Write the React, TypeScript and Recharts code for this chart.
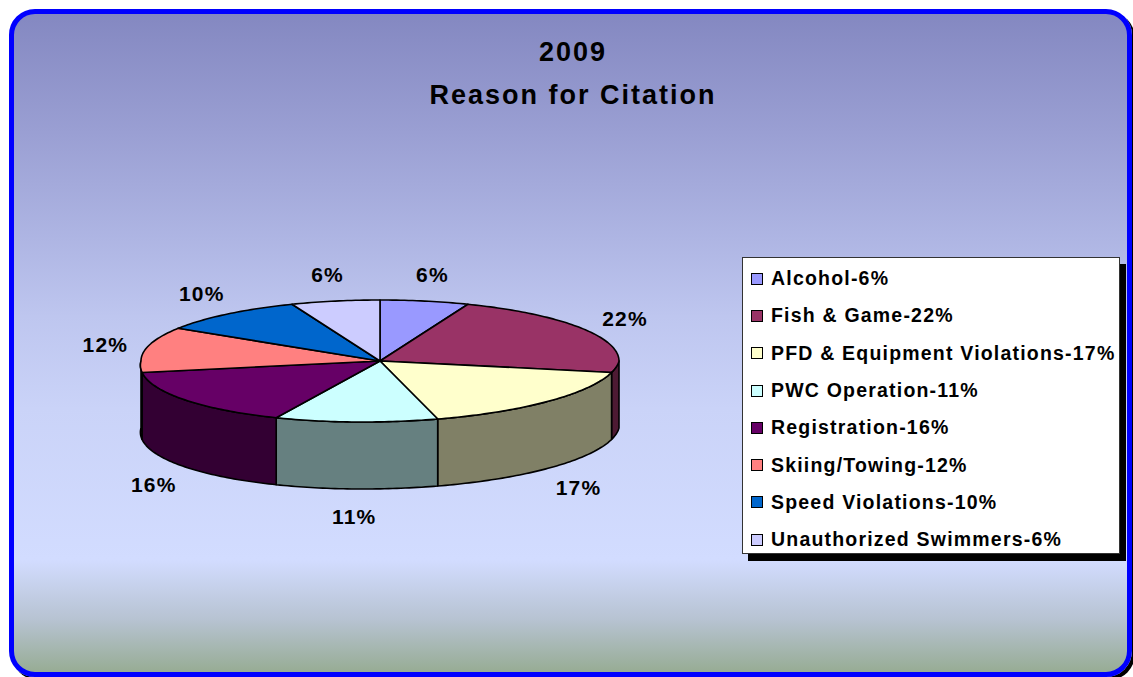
import React from 'react';
import { PieChart, Pie, Cell, Legend } from 'recharts';

const categories = [
  'Alcohol',
  'Fish & Game',
  'PFD & Equipment Violations',
  'PWC Operation',
  'Registration',
  'Skiing/Towing',
  'Speed Violations',
  'Unauthorized Swimmers',
];
const values = [6, 22, 17, 11, 16, 12, 10, 6];
const colors = ['#9999FF', '#993366', '#FFFFCC', '#CCFFFF', '#660066', '#FF8080', '#0066CC', '#CCCCFF'];
const titleLines = ['2009', 'Reason for Citation'];

const data = categories.map((name, i) => ({ name, value: values[i] }));

const FONT = "'Liberation Sans', Arial, Helvetica, sans-serif";
const RAD = Math.PI / 180;
const TILT = 61 / 239; // vertical squash of the pie top
const DEPTH = 67; // thickness of the pie
const SKEW = 17; // front-edge perspective shift

function darken(hex: string): string {
  const n = parseInt(hex.slice(1), 16);
  const r = Math.round(((n >> 16) & 255) * 0.5);
  const g = Math.round(((n >> 8) & 255) * 0.5);
  const b = Math.round((n & 255) * 0.5);
  return `rgb(${r},${g},${b})`;
}

function Slice3D(props: any) {
  const { cx, cy, outerRadius, startAngle, endAngle, fill } = props;
  const rx = outerRadius;
  const ry = outerRadius * TILT;
  const pt = (a: number, dy = 0) => {
    const s = Math.sin(a * RAD);
    const x = cx + rx * Math.cos(a * RAD) + SKEW * Math.min(0, s);
    const y = cy - ry * s + dy;
    return `${x.toFixed(2)},${y.toFixed(2)}`;
  };
  const lo = Math.min(startAngle, endAngle);
  const hi = Math.max(startAngle, endAngle);
  const steps = Math.max(2, Math.ceil(hi - lo));
  let top = `M${cx},${cy}`;
  for (let i = 0; i <= steps; i++) top += ` L${pt(lo + ((hi - lo) * i) / steps)}`;
  top += ' Z';
  const walls: string[] = [];
  for (const k of [-360, 0, 360]) {
    const a1 = Math.max(lo, -180 + k);
    const a2 = Math.min(hi, k);
    if (a2 > a1) {
      const n = Math.max(2, Math.ceil(a2 - a1));
      let d = `M${pt(a1)}`;
      for (let i = 1; i <= n; i++) d += ` L${pt(a1 + ((a2 - a1) * i) / n)}`;
      for (let i = n; i >= 0; i--) d += ` L${pt(a1 + ((a2 - a1) * i) / n, DEPTH)}`;
      d += ' Z';
      walls.push(d);
    }
  }
  return (
    <g>
      {walls.map((d, i) => (
        <path key={i} d={d} fill={darken(fill)} stroke="#000" strokeWidth={1.6} strokeLinejoin="round" />
      ))}
      <path d={top} fill={fill} stroke="#000" strokeWidth={1.6} strokeLinejoin="round" />
    </g>
  );
}

function renderLabel(props: any) {
  const { cx, cy, midAngle, outerRadius, index } = props;
  const s = Math.sin(midAngle * RAD);
  const x = cx + outerRadius * 1.17 * Math.cos(midAngle * RAD) + SKEW * Math.min(0, s);
  const y = cy - outerRadius * TILT * 1.44 * s + (s < 0 ? DEPTH + 1 : 0);
  return (
    <text
      key={`lbl-${index}`}
      x={x}
      y={y}
      textAnchor="middle"
      dominantBaseline="central"
      fontFamily={FONT}
      fontWeight="bold"
      fontSize={21}
      letterSpacing={1.2}
      fill="#000"
    >
      {`${values[index]}%`}
    </text>
  );
}

function LegendBox(props: any) {
  const payload = props.payload || [];
  return (
    <div
      style={{
        width: 378,
        height: 297,
        boxSizing: 'border-box',
        background: '#fff',
        border: '1px solid #333',
        boxShadow: '6px 7px 0 #000',
        paddingTop: 2,
      }}
    >
      {payload.map((entry: any, i: number) => (
        <div
          key={i}
          style={{
            position: 'relative',
            height: 37.3,
            display: 'flex',
            alignItems: 'center',
          }}
        >
          <div
            style={{
              width: 12,
              height: 12,
              boxSizing: 'border-box',
              background: colors[i] || entry.color,
              border: '1px solid #000',
              marginLeft: 8,
              marginRight: 8,
            }}
          />
          <span
            style={{
              fontFamily: FONT,
              fontWeight: 'bold',
              fontSize: 19.5,
              letterSpacing: 1.2,
              color: '#000',
              whiteSpace: 'nowrap',
            }}
          >
            {`${entry.value}-${values[i]}%`}
          </span>
        </div>
      ))}
    </div>
  );
}

export default function App() {
  return (
    <div style={{ position: 'absolute', left: 0, top: 0, width: 1133, height: 677, overflow: 'hidden' }}>
      <div
        style={{
          position: 'absolute',
          left: 9,
          top: 9,
          width: 1123,
          height: 668,
          boxSizing: 'border-box',
          border: '5px solid #0000FF',
          borderRadius: 26,
          boxShadow: '3px 3px 0 #000',
          background:
            'linear-gradient(to bottom, #8488C1 0%, #9A9FD3 18%, #AEB5E3 34%, #BEC6EF 46%, #CAD3F8 60%, #D2DCFF 83%, #B7C3D2 92%, #97AC94 100%)',
        }}
      />
      <div style={{ position: 'absolute', left: 0, top: 0 }}>
        <PieChart width={1133} height={677} margin={{ top: 0, right: 0, bottom: 0, left: 0 }}>
          <text
            x={573}
            y={61}
            textAnchor="middle"
            fontFamily={FONT}
            fontWeight="bold"
            fontSize={27}
            letterSpacing={2}
            fill="#000"
          >
            {titleLines[0]}
          </text>
          <text
            x={573}
            y={104}
            textAnchor="middle"
            fontFamily={FONT}
            fontWeight="bold"
            fontSize={27}
            letterSpacing={2}
            fill="#000"
          >
            {titleLines[1]}
          </text>
          <Pie
            data={data}
            dataKey="value"
            nameKey="name"
            cx={380}
            cy={361}
            outerRadius={239}
            startAngle={90}
            endAngle={-270}
            isAnimationActive={false}
            shape={Slice3D}
            label={renderLabel}
            labelLine={false}
            stroke="#000"
          >
            {data.map((d, i) => (
              <Cell key={d.name} fill={colors[i]} />
            ))}
          </Pie>
          <Legend
            layout="vertical"
            align="right"
            verticalAlign="top"
            content={LegendBox}
            wrapperStyle={{ left: 742, top: 257, right: 'auto', bottom: 'auto', width: 378, height: 297 }}
          />
        </PieChart>
      </div>
    </div>
  );
}
